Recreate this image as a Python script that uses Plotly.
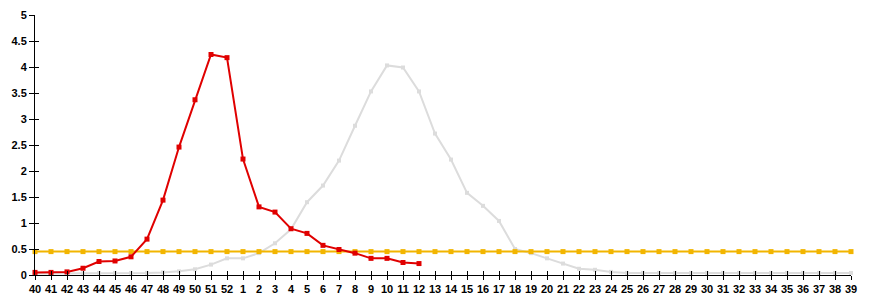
import plotly.graph_objects as go

weeks = [str(w) for w in list(range(40, 53)) + list(range(1, 40))]

current_season = [0.05, 0.05, 0.06, 0.13, 0.26, 0.27, 0.35, 0.69, 1.44, 2.46, 3.37, 4.24, 4.18,
                  2.23, 1.31, 1.21, 0.89, 0.80, 0.57, 0.49, 0.42, 0.32, 0.32, 0.24, 0.22]

previous_season = [0.03, 0.03, 0.03, 0.03, 0.04, 0.04, 0.04, 0.04, 0.05, 0.07, 0.11, 0.20, 0.32,
                   0.32, 0.42, 0.61, 0.88, 1.40, 1.72, 2.20, 2.87, 3.53, 4.03, 3.99, 3.53,
                   2.72, 2.22, 1.58, 1.33, 1.04, 0.50, 0.42, 0.32, 0.22, 0.12, 0.10, 0.06,
                   0.04, 0.04, 0.04, 0.04, 0.04, 0.04, 0.04, 0.04, 0.04, 0.04, 0.04, 0.04,
                   0.04, 0.04, 0.04]

threshold = [0.45] * len(weeks)

y_ticks = [0, 0.5, 1, 1.5, 2, 2.5, 3, 3.5, 4, 4.5, 5]
y_ticktext = ["0", "0.5", "1", "1.5", "2", "2.5", "3", "3.5", "4", "4.5", "5"]

RED = "#e00000"
GRAY = "#dcdcdc"
ORANGE = "#f2b500"

fig = go.Figure()
fig.add_trace(go.Scatter(x=weeks, y=previous_season, mode="lines+markers",
                         line=dict(color=GRAY, width=2),
                         marker=dict(symbol="square", size=4, color=GRAY),
                         cliponaxis=False, showlegend=False, hoverinfo="x+y"))
fig.add_trace(go.Scatter(x=weeks, y=threshold, mode="lines+markers",
                         line=dict(color=ORANGE, width=2),
                         marker=dict(symbol="square", size=5, color=ORANGE),
                         cliponaxis=False, showlegend=False, hoverinfo="x+y"))
fig.add_trace(go.Scatter(x=weeks[:len(current_season)], y=current_season, mode="lines+markers",
                         line=dict(color=RED, width=2),
                         marker=dict(symbol="square", size=5, color=RED),
                         cliponaxis=False, showlegend=False, hoverinfo="x+y"))

tfont = dict(family="Liberation Sans, Arial, sans-serif", size=11, color="black", weight="bold")

fig.update_layout(
    width=870, height=300,
    margin=dict(l=35, r=19, t=15, b=25, pad=0, autoexpand=False),
    paper_bgcolor="white", plot_bgcolor="white",
    font=dict(family="Liberation Sans, Arial, sans-serif", size=11, color="black"),
    xaxis=dict(type="category", categoryorder="array", categoryarray=weeks,
               range=[0, len(weeks) - 1], showgrid=False, zeroline=False,
               showline=True, linecolor="black", linewidth=1,
               ticks="outside", ticklen=4, tickcolor="black", tickwidth=1,
               tickfont=tfont, tickangle=0, automargin=False),
    yaxis=dict(range=[0, 5], tickvals=y_ticks, ticktext=y_ticktext,
               showgrid=False, zeroline=False,
               showline=True, linecolor="black", linewidth=1,
               ticks="outside", ticklen=5, tickcolor="black", tickwidth=1,
               tickfont=tfont, automargin=False),
    xaxis2=dict(type="category", categoryorder="array", categoryarray=weeks,
                range=[0, len(weeks) - 1], overlaying="x", side="bottom",
                showgrid=False, zeroline=False, showline=False,
                ticks="inside", ticklen=4, tickcolor="black", tickwidth=1,
                showticklabels=False, anchor="y", automargin=False),
    yaxis2=dict(range=[0, 5], tickvals=y_ticks, overlaying="y", side="left",
                showgrid=False, zeroline=False, showline=False,
                ticks="inside", ticklen=4, tickcolor="black", tickwidth=1,
                showticklabels=False, anchor="x", automargin=False),
)
fig.add_trace(go.Scatter(x=weeks, y=[None] * len(weeks), xaxis="x2", yaxis="y2",
                         mode="lines", showlegend=False, hoverinfo="skip"))

fig.write_html("out.html")
